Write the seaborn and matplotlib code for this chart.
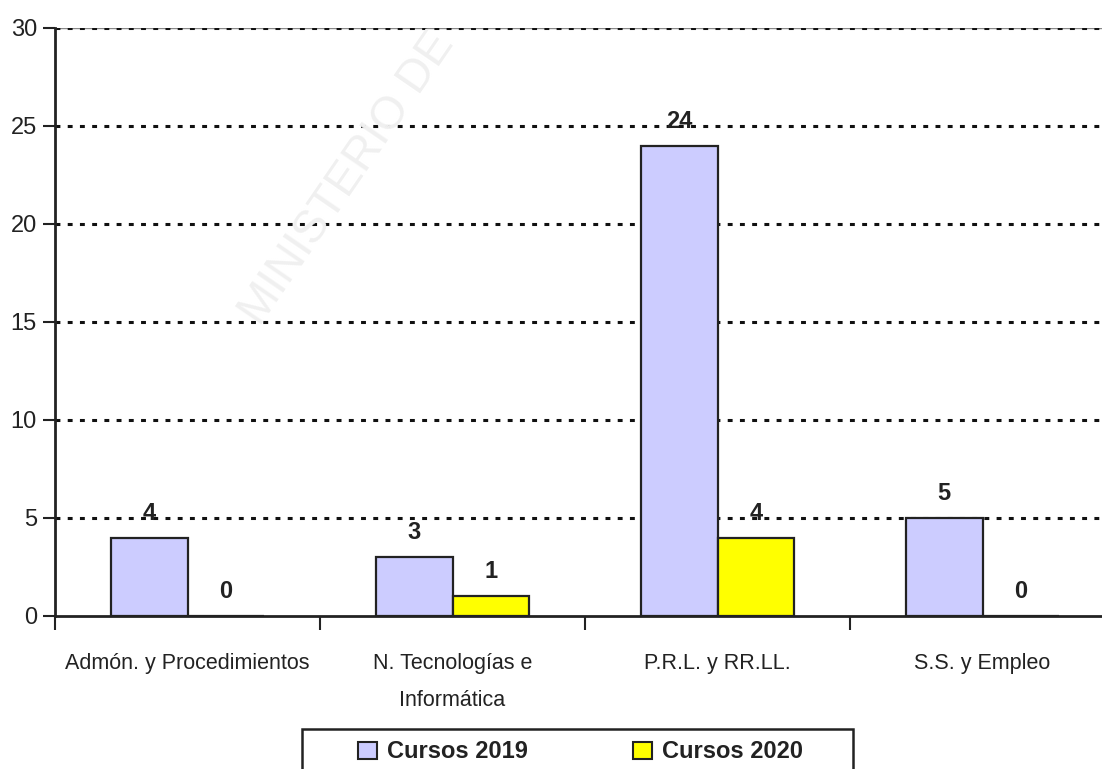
import matplotlib
matplotlib.use("Agg")
import matplotlib.pyplot as plt
import matplotlib.patches as mpatches
import seaborn as sns
import pandas as pd

categories = ["Admón. y Procedimientos", "N. Tecnologías e\nInformática",
              "P.R.L. y RR.LL.", "S.S. y Empleo"]
series_names = ["Cursos 2019", "Cursos 2020"]
cursos_2019 = [4, 3, 24, 5]
cursos_2020 = [0, 1, 4, 0]
y_ticks = [0, 5, 10, 15, 20, 25, 30]
colors = ["#CCCCFF", "#FFFF00"]

df = pd.DataFrame({
    "cat": categories * 2,
    "serie": [series_names[0]] * 4 + [series_names[1]] * 4,
    "val": cursos_2019 + cursos_2020,
})

sns.set_style("white")
FONT = ["Liberation Sans Narrow", "Liberation Sans", "DejaVu Sans"]
plt.rcParams["font.family"] = FONT

W, H = 1102, 769
fig = plt.figure(figsize=(W / 100, H / 100), dpi=100)
ax = fig.add_axes([55 / W, (H - 616) / H, 1060 / W, 588 / H])

sns.barplot(data=df, x="cat", y="val", hue="serie", order=categories,
            hue_order=series_names, palette=colors, width=0.58, gap=0,
            edgecolor="#222222", linewidth=1.6, saturation=1, ax=ax,
            legend=False, zorder=3)

ax.set_xlim(-0.5, 3.5)
ax.set_ylim(0, 30)
ax.set_yticks(y_ticks)
ax.set_ylabel("")
ax.set_xlabel("")

# gridlines
for t in y_ticks[1:]:
    ax.axhline(t, color="#111111", lw=2.2, linestyle=(0, (1.6, 2.4)), zorder=1)
ax.axhline(30, color="#888888", lw=1.0, zorder=0.5)

for s in ["top", "right"]:
    ax.spines[s].set_visible(False)
for s in ["left", "bottom"]:
    ax.spines[s].set_color("#222222")
    ax.spines[s].set_linewidth(2)
    ax.spines[s].set_zorder(4)

ax.tick_params(axis="y", direction="out", length=9, width=1.5, color="#222222",
               labelsize=17, pad=4, labelcolor="#222222", left=True)
ax.set_xticks(range(len(categories)))
ax.set_xticklabels(categories, fontsize=15.5, color="#222222", linespacing=2.0)
ax.tick_params(axis="x", length=0, pad=27)
ax.set_xticks([-0.5, 0.5, 1.5, 2.5], minor=True)
ax.tick_params(axis="x", which="minor", direction="out", length=10, width=1.5,
               color="#222222", bottom=True)

# value labels
offset = 1.25
for i, (a, b) in enumerate(zip(cursos_2019, cursos_2020)):
    ax.text(i - 0.145, a + offset, str(a), ha="center", va="center",
            fontsize=17, fontweight="bold", color="#222222", zorder=5)
    ax.text(i + 0.145, b + offset, str(b), ha="center", va="center",
            fontsize=17, fontweight="bold", color="#222222", zorder=5)

# watermark
fig.text(348 / W, 1 - 178 / H, "MINISTERIO DE", rotation=55.5, ha="center",
         va="center", fontsize=33, color="#f0f0f0", zorder=0,
         family=["Liberation Sans", "DejaVu Sans"])

# legend
handles = [mpatches.Patch(facecolor=c, edgecolor="#222222", linewidth=1.5)
           for c in colors]
leg = fig.legend(handles, series_names, loc="center left",
                 bbox_to_anchor=(337 / W, 1 - 752 / H), ncol=2, frameon=False,
                 handlelength=0.8, handleheight=0.72, handletextpad=0.42,
                 columnspacing=4.45,
                 prop={"size": 17, "weight": "bold", "family": FONT})
for t in leg.get_texts():
    t.set_color("#222222")
fig.patches.append(mpatches.Rectangle((302 / W, -0.05), 551 / W,
                                      (H - 729) / H + 0.05,
                                      transform=fig.transFigure,
                                      facecolor="none", edgecolor="#222222",
                                      linewidth=1.8))

fig.savefig("out.png", dpi=100)
